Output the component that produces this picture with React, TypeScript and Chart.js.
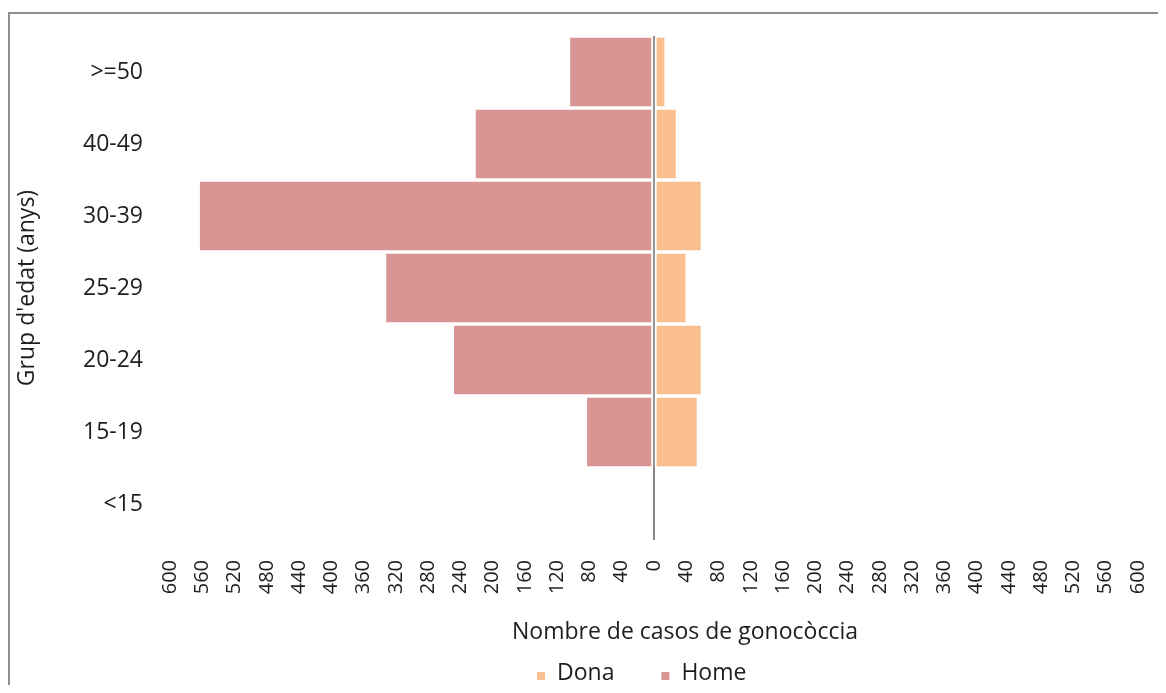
import React, { useEffect, useRef } from 'react';
import { Chart, registerables } from 'chart.js';

Chart.register(...registerables);

// Age groups, listed from the top row of the pyramid to the bottom row
const ageGroups = ['>=50', '40-49', '30-39', '25-29', '20-24', '15-19', '<15'];
// Gonorrhoea cases per age group
const donaCases = [15, 29, 60, 41, 60, 55, 0];
const homeCases = [106, 223, 565, 334, 250, 85, 0];
const seriesNames = ['Dona', 'Home'];
const seriesColors = ['#FABF8F', '#D99594'];
// Symmetric value axis: 600 … 0 … 600 in steps of 40
const axisLimit = 600;
const axisStep = 40;
const xAxisTitle = 'Nombre de casos de gonocòccia';
const yAxisTitle = "Grup d'edat (anys)";

const FONT = '"Open Sans", "DejaVu Sans", sans-serif';
const TEXT = '#1e1e1e';

// Horizontal axis title and a square-marker legend underneath it
const bottomLabels = {
  id: 'bottomLabels',
  afterDraw(chart: any) {
    const ctx = chart.ctx as CanvasRenderingContext2D;
    ctx.save();
    ctx.font = `23px ${FONT}`;
    ctx.fillStyle = TEXT;
    ctx.textAlign = 'left';
    ctx.textBaseline = 'middle';
    ctx.fillText(xAxisTitle, 504, 624);

    ctx.textBaseline = 'alphabetic';
    const box = 8;
    const boxGap = 12;
    const itemGap = 47;
    const baseY = 672;
    let x = 529;
    chart.data.datasets.forEach((ds: any) => {
      ctx.fillStyle = ds.backgroundColor;
      ctx.fillRect(x, baseY - box, box, box);
      x += box + boxGap;
      ctx.fillStyle = TEXT;
      ctx.fillText(ds.label, x, baseY);
      x += ctx.measureText(ds.label).width + itemGap;
    });
    ctx.restore();
  },
};

function PyramidChart() {
  const canvasRef = useRef<HTMLCanvasElement | null>(null);

  useEffect(() => {
    const canvas = canvasRef.current;
    if (!canvas) return;
    const barStyle = {
      borderColor: '#ffffff',
      borderWidth: 2,
      borderSkipped: false,
      barPercentage: 1,
      categoryPercentage: 1,
    };
    const chart = new Chart(canvas, {
      type: 'bar',
      data: {
        labels: ageGroups,
        datasets: [
          { label: seriesNames[0], data: donaCases, backgroundColor: seriesColors[0], ...barStyle },
          { label: seriesNames[1], data: homeCases.map((v) => -v), backgroundColor: seriesColors[1], ...barStyle },
        ],
      },
      options: {
        indexAxis: 'y',
        responsive: false,
        animation: false,
        layout: { autoPadding: false, padding: { top: 28, right: 28, bottom: 40, left: 0 } },
        plugins: {
          legend: { display: false },
          tooltip: { enabled: false },
        },
        scales: {
          x: {
            stacked: true,
            min: -axisLimit,
            max: axisLimit,
            z: 1,
            afterFit: (scale: any) => {
              scale.height = 105;
              scale.paddingLeft = 0;
              scale.paddingRight = 0;
            },
            grid: {
              drawTicks: false,
              lineWidth: 2,
              color: (c: any) => (c.tick && c.tick.value === 0 ? '#878787' : 'rgba(0,0,0,0)'),
            },
            border: { display: false },
            ticks: {
              stepSize: axisStep,
              autoSkip: false,
              minRotation: 90,
              maxRotation: 90,
              padding: 20,
              color: TEXT,
              font: { family: FONT, size: 20 },
              callback: (v: any) => String(Math.abs(Number(v))),
            },
            title: { display: false },
          },
          y: {
            stacked: true,
            afterFit: (scale: any) => {
              scale.width = 162;
              scale.paddingTop = 0;
              scale.paddingBottom = 0;
            },
            grid: { display: false, drawTicks: false },
            border: { display: false },
            ticks: {
              padding: 27,
              color: TEXT,
              font: { family: FONT, size: 23 },
            },
            title: {
              display: true,
              text: yAxisTitle,
              color: TEXT,
              font: { family: FONT, size: 23 },
              padding: { top: 6, bottom: 0 },
            },
          },
        },
      },
      plugins: [bottomLabels],
    });
    return () => chart.destroy();
  }, []);

  return (
    <div style={{ position: 'relative', width: 1158, height: 677, overflow: 'hidden', background: '#fff' }}>
      <div
        style={{
          position: 'absolute',
          left: 0,
          top: 4,
          width: 2000,
          height: 2000,
          borderLeft: '2px solid #8f8f8f',
          borderTop: '2px solid #8f8f8f',
        }}
      />
      <canvas ref={canvasRef} width={1158} height={677} style={{ position: 'absolute', left: 0, top: 0, display: 'block' }} />
    </div>
  );
}

export default function App() {
  return <PyramidChart />;
}
